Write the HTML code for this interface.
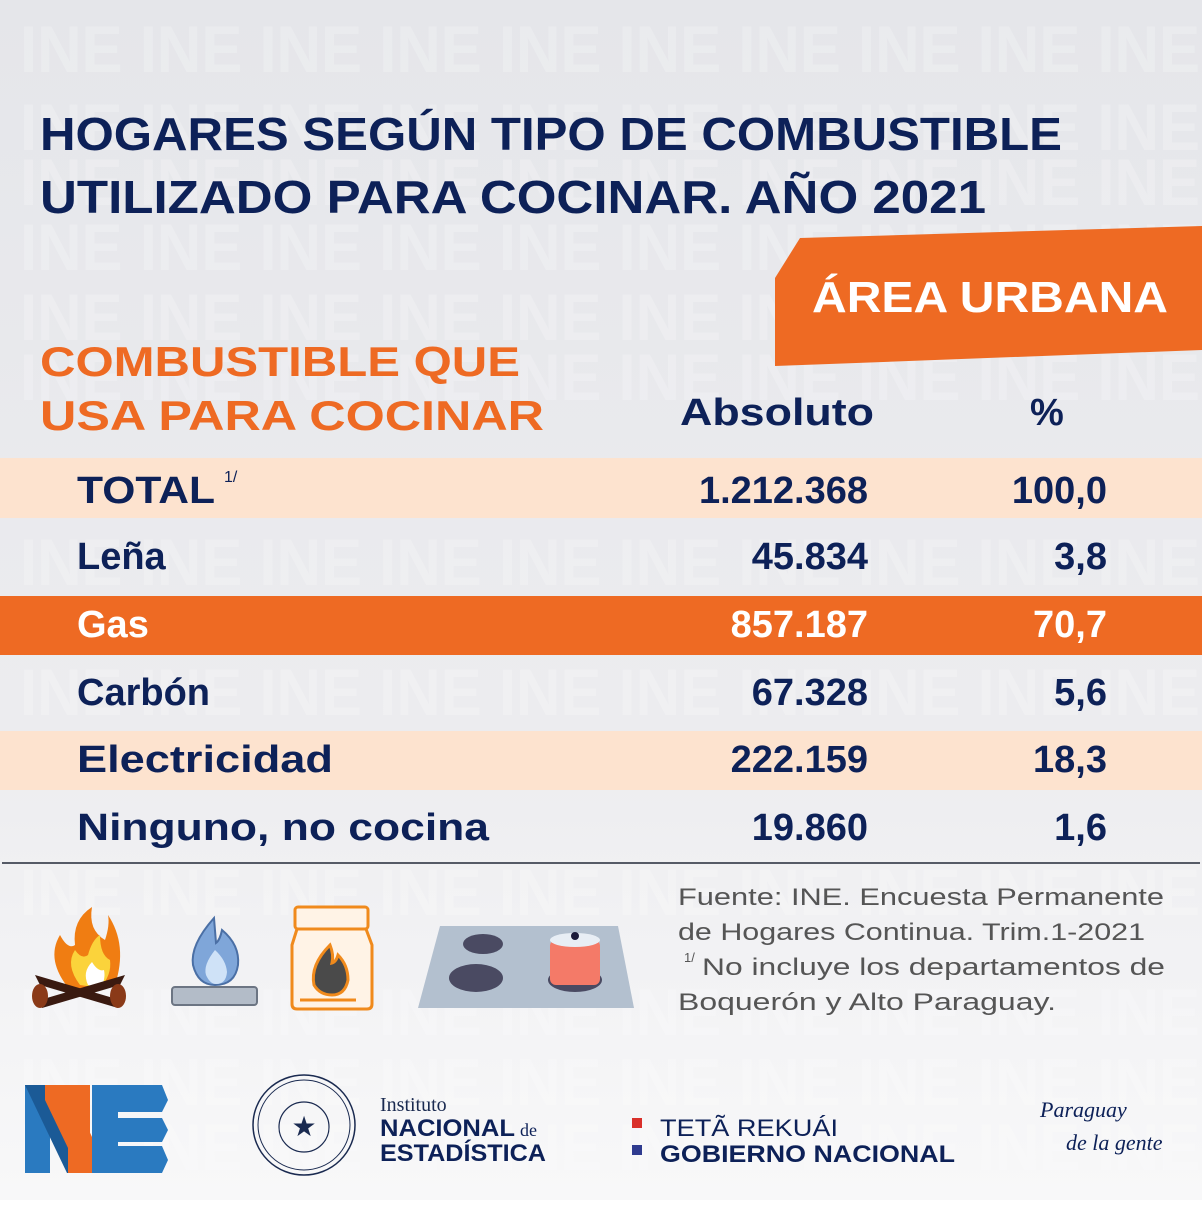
<!DOCTYPE html>
<html><head><meta charset="utf-8"><style>
html,body{margin:0;padding:0;}
body{width:1202px;height:1200px;overflow:hidden;}
text{font-family:"Liberation Sans",sans-serif;font-weight:bold;}
text.n{font-weight:normal;}
</style></head><body>
<svg width="1202" height="1200" viewBox="0 0 1202 1200" xmlns="http://www.w3.org/2000/svg">
<defs>
<linearGradient id="bg" x1="0" y1="0" x2="0" y2="1">
<stop offset="0" stop-color="#e5e6ea"/><stop offset="0.6" stop-color="#ececef"/><stop offset="1" stop-color="#f8f8f9"/>
</linearGradient>
</defs>
<rect width="1202" height="1200" fill="url(#bg)"/>
<g fill="#ffffff" opacity="0.22" font-size="66">
<text x="20" y="72" textLength="1180" lengthAdjust="spacingAndGlyphs">INE INE INE INE INE INE INE INE INE INE</text>
<text x="20" y="150" textLength="1180" lengthAdjust="spacingAndGlyphs">INE INE INE INE INE INE INE INE INE INE</text>
<text x="20" y="205" textLength="1180" lengthAdjust="spacingAndGlyphs">INE INE INE INE INE INE INE INE INE INE</text>
<text x="20" y="270" textLength="1180" lengthAdjust="spacingAndGlyphs">INE INE INE INE INE INE INE INE INE INE</text>
<text x="20" y="340" textLength="1180" lengthAdjust="spacingAndGlyphs">INE INE INE INE INE INE INE INE INE INE</text>
<text x="20" y="400" textLength="1180" lengthAdjust="spacingAndGlyphs">INE INE INE INE INE INE INE INE INE INE</text>
<text x="20" y="585" textLength="1180" lengthAdjust="spacingAndGlyphs">INE INE INE INE INE INE INE INE INE INE</text>
<text x="20" y="715" textLength="1180" lengthAdjust="spacingAndGlyphs">INE INE INE INE INE INE INE INE INE INE</text>
<text x="20" y="915" textLength="1180" lengthAdjust="spacingAndGlyphs">INE INE INE INE INE INE INE INE INE INE</text>
<text x="20" y="1035" textLength="1180" lengthAdjust="spacingAndGlyphs">INE INE INE INE INE INE INE INE INE INE</text>
<text x="20" y="1105" textLength="1180" lengthAdjust="spacingAndGlyphs">INE INE INE INE INE INE INE INE INE INE</text>
<text x="20" y="1170" textLength="1180" lengthAdjust="spacingAndGlyphs">INE INE INE INE INE INE INE INE INE INE</text>
</g>

<g fill="#0d2158" font-size="46">
<text x="40" y="150" textLength="1022" lengthAdjust="spacingAndGlyphs">HOGARES SEGÚN TIPO DE COMBUSTIBLE</text>
<text x="40" y="213" textLength="946" lengthAdjust="spacingAndGlyphs">UTILIZADO PARA COCINAR. AÑO 2021</text>
</g>

<polygon points="800,238 1202,226 1202,350 775,366 775,278" fill="#ee6a23"/>
<text x="812" y="312" font-size="44" fill="#fff" textLength="356" lengthAdjust="spacingAndGlyphs">ÁREA URBANA</text>

<g fill="#ee6a23" font-size="42">
<text x="40" y="376" textLength="480" lengthAdjust="spacingAndGlyphs">COMBUSTIBLE QUE</text>
<text x="40" y="430" textLength="504" lengthAdjust="spacingAndGlyphs">USA PARA COCINAR</text>
</g>
<g fill="#0d2158" font-size="38">
<text x="680" y="425" textLength="194" lengthAdjust="spacingAndGlyphs">Absoluto</text>
<text x="1030" y="425">%</text>
</g>

<rect x="0" y="458" width="1202" height="60" fill="#fde3cf"/>
<rect x="0" y="596" width="1202" height="59" fill="#ee6a23"/>
<rect x="0" y="731" width="1202" height="59" fill="#fde3cf"/>

<g font-size="38" fill="#0d2158">
<text x="77" y="503" textLength="138" lengthAdjust="spacingAndGlyphs">TOTAL</text>
<text x="224" y="482" font-size="16" class="n">1/</text>
<text x="868" y="503" text-anchor="end">1.212.368</text>
<text x="1107" y="503" text-anchor="end">100,0</text>

<text x="77" y="569">Leña</text>
<text x="868" y="569" text-anchor="end">45.834</text>
<text x="1107" y="569" text-anchor="end">3,8</text>

<text x="77" y="637" fill="#fff">Gas</text>
<text x="868" y="637" text-anchor="end" fill="#fff">857.187</text>
<text x="1107" y="637" text-anchor="end" fill="#fff">70,7</text>

<text x="77" y="705">Carbón</text>
<text x="868" y="705" text-anchor="end">67.328</text>
<text x="1107" y="705" text-anchor="end">5,6</text>

<text x="77" y="772" textLength="256" lengthAdjust="spacingAndGlyphs">Electricidad</text>
<text x="868" y="772" text-anchor="end">222.159</text>
<text x="1107" y="772" text-anchor="end">18,3</text>

<text x="77" y="840" textLength="412" lengthAdjust="spacingAndGlyphs">Ninguno, no cocina</text>
<text x="868" y="840" text-anchor="end">19.860</text>
<text x="1107" y="840" text-anchor="end">1,6</text>
</g>
<rect x="2" y="862" width="1198" height="2" fill="#555a66"/>

<g font-size="24" fill="#555">
<text class="n" x="678" y="905" textLength="486" lengthAdjust="spacingAndGlyphs">Fuente: INE. Encuesta Permanente</text>
<text class="n" x="678" y="940" textLength="467" lengthAdjust="spacingAndGlyphs">de Hogares Continua. Trim.1-2021</text>
<text class="n" x="684" y="962" font-size="13">1/</text>
<text class="n" x="702" y="975" textLength="463" lengthAdjust="spacingAndGlyphs">No incluye los departamentos de</text>
<text class="n" x="678" y="1010" textLength="378" lengthAdjust="spacingAndGlyphs">Boquerón y Alto Paraguay.</text>
</g>

<!-- campfire -->
<g>
<path d="M70,990 Q45,960 60,935 Q68,950 75,945 Q72,920 92,907 Q88,930 105,940 Q110,925 108,915 Q128,945 115,985 Z" fill="#f07d12"/>
<path d="M80,985 Q65,965 75,950 Q82,960 88,955 Q92,940 100,935 Q100,955 110,960 Q112,975 100,988 Z" fill="#fbd33b"/>
<path d="M88,985 Q82,972 92,962 Q98,972 104,970 Q106,980 100,988 Z" fill="#fff"/>
<path d="M35,975 L120,1000 L118,1008 L40,985 Z" fill="#3a1a10"/>
<path d="M125,975 L40,1000 L42,1008 L120,985 Z" fill="#3a1a10"/>
<ellipse cx="40" cy="996" rx="8" ry="12" fill="#8a3a18"/>
<ellipse cx="118" cy="996" rx="8" ry="12" fill="#8a3a18"/>
</g>
<!-- gas burner -->
<g>
<path d="M214,918 Q190,945 193,965 Q198,985 215,985 Q235,985 238,965 Q240,945 222,930 Q220,940 216,943 Z" fill="#7fa6d9" stroke="#4a6fa5" stroke-width="2"/>
<path d="M215,950 Q203,965 206,975 Q210,984 216,984 Q226,984 227,972 Q226,960 215,950 Z" fill="#cfe2f7"/>
<rect x="172" y="987" width="85" height="18" rx="3" fill="#b3bcc8" stroke="#6c7583" stroke-width="2"/>
</g>
<!-- charcoal bag -->
<g>
<rect x="295" y="907" width="73" height="22" rx="3" fill="#fff3e6" stroke="#f08a1c" stroke-width="3"/>
<path d="M297,929 L292,945 L292,1004 Q292,1009 297,1009 L367,1009 Q372,1009 372,1004 L372,945 L366,929 Z" fill="#fff3e6" stroke="#f08a1c" stroke-width="3"/>
<path d="M330,945 Q310,965 314,985 Q320,995 332,995 Q345,995 348,980 Q348,965 338,955 Q336,962 332,963 Q334,955 330,945 Z" fill="#4a4a4a" stroke="#f08a1c" stroke-width="3"/>
<line x1="300" y1="1000" x2="356" y2="1000" stroke="#f08a1c" stroke-width="3"/>
</g>
<!-- stovetop -->
<g>
<polygon points="440,926 618,926 634,1008 418,1008" fill="#b3c0cf"/>
<ellipse cx="483" cy="944" rx="20" ry="10" fill="#4a4a62"/>
<ellipse cx="476" cy="978" rx="27" ry="14" fill="#4a4a62"/>
<ellipse cx="575" cy="980" rx="27" ry="12" fill="#4a4a62"/>
<rect x="550" y="940" width="50" height="45" rx="6" fill="#f47a68"/>
<ellipse cx="575" cy="940" rx="25" ry="7" fill="#e8eef5"/>
<circle cx="575" cy="936" r="4" fill="#1a1a3a"/>
</g>

<!-- INE logo -->
<g>
<rect x="25" y="1085" width="25" height="88" fill="#2a7ac0"/>
<polygon points="25,1085 50,1085 92,1173 67,1173" fill="#1b5a96"/>
<polygon points="45,1085 68,1085 98,1150 98,1173 80,1173 45,1100" fill="#ee6a23"/>
<rect x="68" y="1085" width="22" height="88" fill="#ee6a23"/>
<polygon points="92,1085 162,1085 168,1100 162,1112 118,1112 118,1118 162,1118 168,1130 162,1142 118,1142 118,1146 162,1146 168,1160 162,1173 92,1173" fill="#2a7ac0"/>
</g>
<!-- seal -->
<g fill="none" stroke="#1a2a50">
<ellipse cx="304" cy="1125" rx="51" ry="50" stroke-width="1.5"/>
<ellipse cx="304" cy="1125" rx="46" ry="45" stroke-width="1"/>
<circle cx="304" cy="1127" r="25" stroke-width="1.2"/>
</g>
<text class="n" x="304" y="1136" font-size="28" fill="#1a2a50" text-anchor="middle">★</text>
<text x="380" y="1111" font-size="20" fill="#1a2a50" style="font-family:'Liberation Serif',serif;font-weight:normal">Instituto</text>
<text x="380" y="1136" font-size="24" fill="#0d2158" textLength="135" lengthAdjust="spacingAndGlyphs">NACIONAL</text>
<text x="520" y="1136" font-size="18" fill="#0d2158" style="font-family:'Liberation Serif',serif;font-weight:normal">de</text>
<text x="380" y="1161" font-size="24" fill="#0d2158" textLength="166" lengthAdjust="spacingAndGlyphs">ESTADÍSTICA</text>

<rect x="632" y="1118" width="10" height="10" fill="#d9302a"/>
<rect x="632" y="1145" width="10" height="10" fill="#2f3b8f"/>
<text class="n" x="660" y="1136" font-size="24" fill="#0d2158" textLength="178" lengthAdjust="spacingAndGlyphs">TETÃ REKUÁI</text>
<text x="660" y="1162" font-size="24" fill="#0d2158" textLength="295" lengthAdjust="spacingAndGlyphs">GOBIERNO NACIONAL</text>

<text x="1040" y="1117" font-size="22" fill="#0d2158" style="font-family:'Liberation Serif',serif;font-style:italic;font-weight:normal">Paraguay</text>
<text x="1066" y="1150" font-size="22" fill="#0d2158" style="font-family:'Liberation Serif',serif;font-style:italic;font-weight:normal">de la gente</text>
</svg>
</body></html>
